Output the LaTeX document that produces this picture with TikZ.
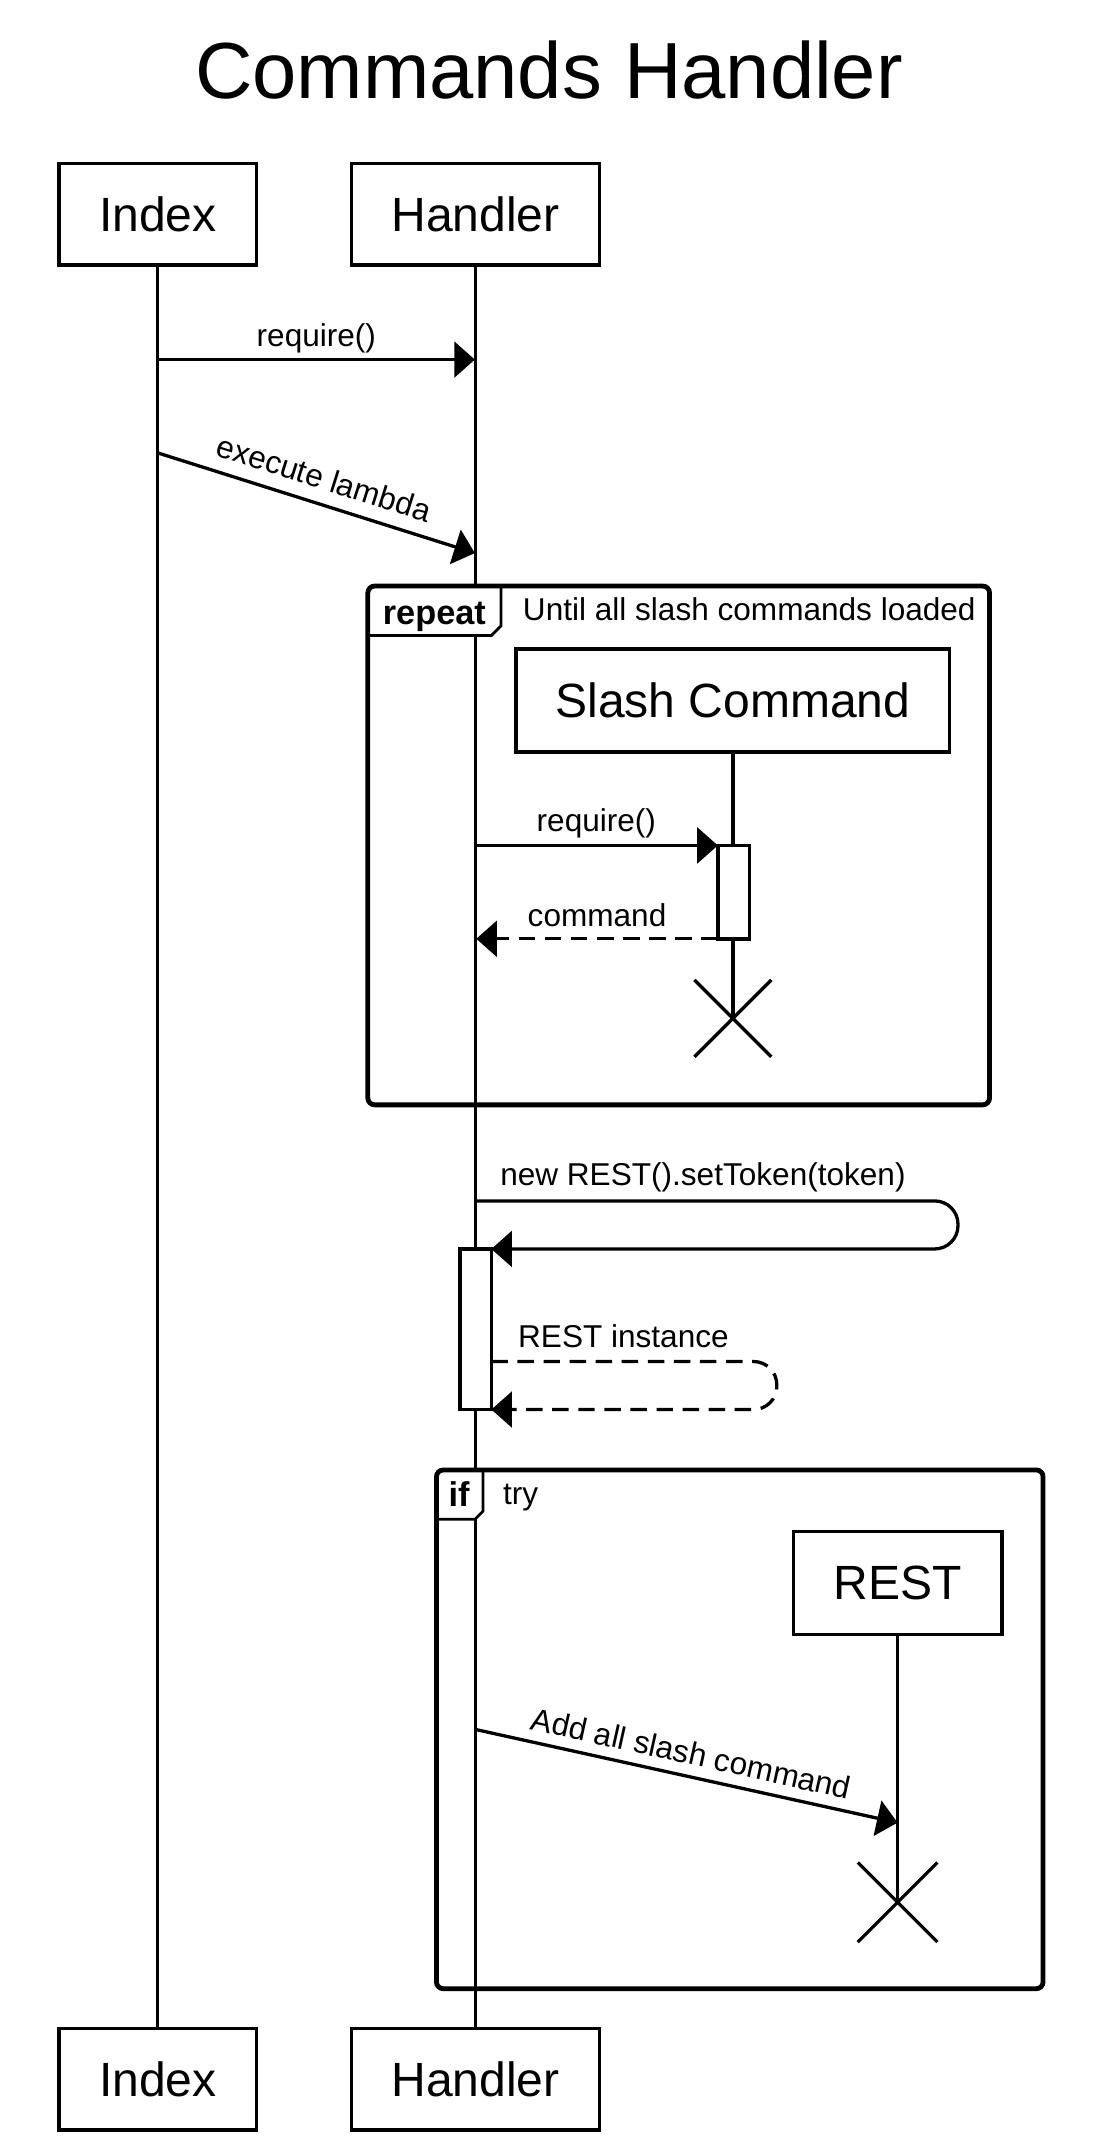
\documentclass[tikz,border=0pt]{standalone}
\usepackage{fontspec}
\setmainfont{Liberation Sans}
\setsansfont{Liberation Sans}
\usetikzlibrary{arrows,arrows.meta}

\begin{document}
\begin{tikzpicture}[x=1pt,y=-1pt,
  line width=2.4pt,
  >={Triangle[length=15pt,width=26pt]},
  every node/.style={font=\sffamily\fontsize{23}{27}\selectfont},
  head/.style={rectangle,
               draw,
               line width=2.5pt,
               fill=white,
               minimum height=74pt},
  headtext/.style={font=\sffamily\fontsize{35}{40}\selectfont},
  actbar/.style={rectangle,
                 draw,
                 line width=2.5pt,
                 fill=white,
                 outer sep=0pt,
                 minimum width=23pt},
  frame/.style={rectangle,
                draw,
                line width=3.5pt,
                rounded corners=5pt,
                outer sep=0pt},
  tagline/.style={line width=2pt},
  tagtext/.style={font=\sffamily\bfseries\fontsize{25}{30}\selectfont},
  reply/.style={dash pattern=on 12pt off 7pt}
  ]

  \useasboundingbox (0,0) rectangle (803.6,1568.7);

  \node[font=\sffamily\fontsize{58}{64}\selectfont,
        anchor=base
        ] (title) at (400,72) {Commands Handler};

  % heads, top and bottom
  \node[head, minimum width=144pt] (idx1) at (115,156) {};
  \node[headtext] (idx1t) at (idx1.center) {Index};

  \node[head, minimum width=181pt] (hnd1) at (346.5,156) {};
  \node[headtext] (hnd1t) at (hnd1.center) {Handler};

  \node[head, minimum width=144pt] (idx2) at (115,1515) {};
  \node[headtext] (idx2t) at (idx2.center) {Index};

  \node[head, minimum width=181pt] (hnd2) at (346.5,1515) {};
  \node[headtext] (hnd2t) at (hnd2.center) {Handler};

  % lifelines
  \draw (idx1.south) -- (idx2.north);
  \draw (hnd1.south) -- (hnd2.north);

  \path
  (115,262) edge [->] node [above] {require()} (346,262)
  (115,330) edge [->] node [above, sloped, yshift=6pt] {execute lambda} (346,403);

  % repeat frame
  \fill[white] (268,427) -- (268,463) -- (358,463) -- (365,456) -- (365,427) -- cycle;
  \node[frame,
        minimum width=453pt,
        minimum height=378pt
        ] (rep) at (494.5,616) {};
  \draw[tagline] (268,463) -- (358,463) -- (365,456) -- (365,427);
  \node[tagtext, anchor=base] (rept) at (316.5,455) {repeat};
  \node[anchor=base west] (repc) at (376.5,452) {Until all slash commands loaded};

  \node[head, minimum width=316pt, minimum height=75pt] (sc) at (534,510.5) {};
  \node[headtext] (sct) at (sc.center) {Slash Command};

  \coordinate (scx) at (534,742);
  \draw (sc.south) -- (scx);
  \draw (scx) +(-28,-28) -- +(28,28)
        (scx) +(28,-28) -- +(-28,28);

  \node[actbar, minimum height=68pt] (scact) at (534.5,650) {};

  \path
  (346,616) edge [->] node [above, yshift=1pt] {require()} (scact.north west)
  (scact.south west) edge [->, reply] node [above, yshift=4pt] {command} (347,684);

  % self calls on the handler
  \node[actbar, minimum height=117pt] (hact) at (346.5,968.5) {};

  \coordinate (selfa) at (346,875);
  \draw[->, rounded corners=17pt] (selfa) -- (698,875) -- (698,910) -- (hact.north east);
  \node[anchor=base west] (selft) at (360,864) {new REST().setToken(token)};

  \coordinate (selfb) at (hact.east |- 0,992);
  \draw[->, reply, rounded corners=17pt] (selfb) -- (566,992) -- (566,1027) -- (hact.south east);
  \node[anchor=base west] (selfr) at (373,982) {REST instance};

  % if frame
  \fill[white] (318,1071) -- (318,1107) -- (346,1107) -- (352,1101) -- (352,1071) -- cycle;
  \node[frame,
        minimum width=442pt,
        minimum height=378pt
        ] (iff) at (539,1260) {};
  \draw[tagline] (318,1107) -- (346,1107) -- (352,1101) -- (352,1071);
  \node[tagtext, anchor=base] (ifft) at (334.5,1098) {if};
  \node[anchor=base west] (iffc) at (362,1096) {try};

  \node[head, minimum width=152pt, minimum height=75pt] (rest) at (654,1153.5) {};
  \node[headtext] (restt) at (rest.center) {REST};

  \coordinate (restx) at (654,1386);
  \draw (rest.south) -- (restx);
  \draw (restx) +(-29,-29) -- +(29,29)
        (restx) +(29,-29) -- +(-29,29);

  \path
  (346,1260) edge [->] node [above, sloped, yshift=4pt] {Add all slash command} (654,1328);

\end{tikzpicture}
\end{document}
